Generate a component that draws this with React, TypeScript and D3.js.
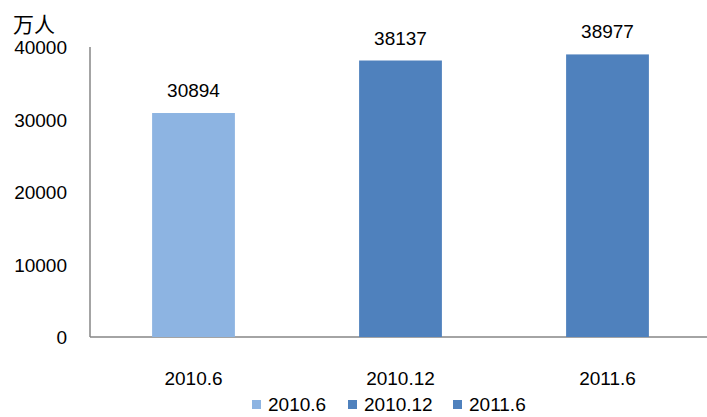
import React from "react";
import * as d3 from "d3";

const categories = ["2010.6", "2010.12", "2011.6"];
const values = [30894, 38137, 38977];
const colors = ["#8DB4E2", "#4F81BD", "#4F81BD"];
const yTicks = [0, 10000, 20000, 30000, 40000];
const unitLabel = "万人";

const W = 707;
const H = 417;
const M = { left: 90, right: -4, top: 47, bottom: 80 };
const FONT = "'Liberation Sans', Arial, sans-serif";

export default function App() {
  const x = d3
    .scaleBand<string>()
    .domain(categories)
    .range([M.left, W - M.right])
    .paddingInner(0.6)
    .paddingOuter(0.3);
  const y = d3.scaleLinear().domain([0, 40000]).range([H - M.bottom, M.top]);

  const legendItems = [
    { label: categories[0], color: colors[0], x: 252 },
    { label: categories[1], color: colors[1], x: 348 },
    { label: categories[2], color: colors[2], x: 453 },
  ];

  return (
    <svg
      width={W}
      height={H}
      style={{ position: "absolute", left: 0, top: 0, background: "#fff" }}
      fontFamily={FONT}
    >
      <line x1={M.left} x2={M.left} y1={y(40000)} y2={y(0)} stroke="#868686" strokeWidth={1.5} />
      <line x1={M.left} x2={W} y1={y(0)} y2={y(0)} stroke="#868686" strokeWidth={1.5} />
      {yTicks.map((t) => (
        <text key={t} x={67} y={y(t) + 7} textAnchor="end" fontSize={19} fill="#000">
          {t}
        </text>
      ))}
      <text x={13} y={32} fontSize={21} fontFamily="'Noto Sans CJK SC', sans-serif" fill="#000">
        {unitLabel}
      </text>
      {categories.map((c, i) => (
        <g key={c}>
          <rect
            x={x(c)!}
            y={y(values[i])}
            width={x.bandwidth()}
            height={y(0) - y(values[i])}
            fill={colors[i]}
          />
          <text
            x={x(c)! + x.bandwidth() / 2}
            y={y(values[i]) - 16}
            textAnchor="middle"
            fontSize={19}
            fill="#000"
          >
            {values[i]}
          </text>
          <text
            x={x(c)! + x.bandwidth() / 2}
            y={385}
            textAnchor="middle"
            fontSize={19}
            fill="#000"
          >
            {c}
          </text>
        </g>
      ))}
      {legendItems.map((l) => (
        <g key={l.label}>
          <rect x={l.x} y={400} width={9} height={9} fill={l.color} />
          <text x={l.x + 16} y={411} fontSize={19} fill="#000">
            {l.label}
          </text>
        </g>
      ))}
    </svg>
  );
}
